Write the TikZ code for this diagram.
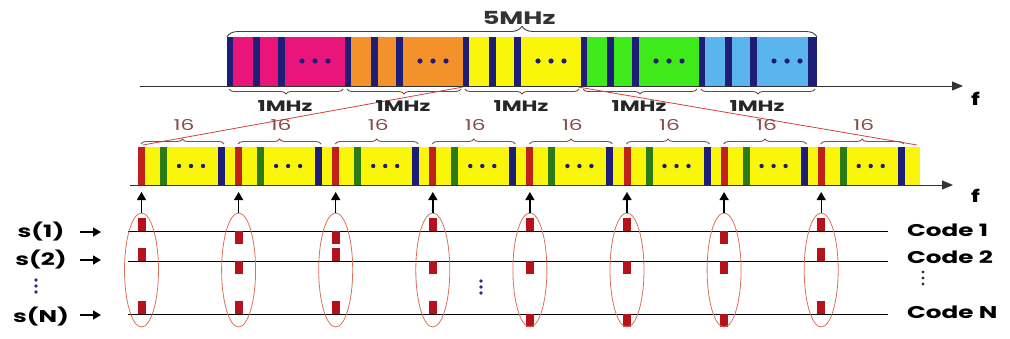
\documentclass[tikz,border=0pt]{standalone}
\usepackage{fontspec}
\setmainfont{Poppins}
\usetikzlibrary{shapes.geometric,decorations.pathreplacing,arrows.meta}
\definecolor{cpink}{HTML}{EA157A}
\definecolor{corange}{HTML}{F3922B}
\definecolor{cyellow}{HTML}{FAF60A}
\definecolor{cgreen}{HTML}{3EEA1A}
\definecolor{cblue}{HTML}{5AB4EE}
\definecolor{navy}{HTML}{1E1E78}
\definecolor{cred}{HTML}{C0221A}
\definecolor{dgreen}{HTML}{2C7A18}
\definecolor{codered}{HTML}{B5121B}
\definecolor{ellc}{HTML}{D9705A}
\definecolor{zoomc}{HTML}{D44040}
\definecolor{bracec}{HTML}{6A4A40}
\definecolor{sixc}{HTML}{8A4A4A}
\definecolor{dotblue}{HTML}{2A2A8A}
\newcommand\wx[1]{\scalebox{1.45}[1]{#1}}
\tikzset{
  lab/.style={inner sep=0pt, font=\fontsize{17}{19}\selectfont\bfseries},
  axisline/.style={line width=1pt, draw=black!80, -{Triangle[length=11pt,width=9pt]}},
  bracetop/.style={decorate, decoration={brace, amplitude=11pt}, line width=0.9pt, draw=black!75},
  bracemhz/.style={decorate, decoration={brace, mirror, amplitude=5pt}, line width=0.9pt, draw=bracec},
  bracesix/.style={decorate, decoration={brace, amplitude=5pt}, line width=0.9pt, draw=sixc},
  zoomline/.style={line width=0.8pt, draw=zoomc},
  ell/.style={ellipse, draw=ellc, line width=0.8pt, minimum width=34pt, minimum height=114pt, inner sep=0pt},
  uparr/.style={line width=1.4pt, -{Triangle[length=8pt,width=9pt]}},
  codeline/.style={line width=1pt, draw=black},
  inarr/.style={line width=1.4pt, -{Triangle[length=8pt,width=9pt]}},
}
\begin{document}
\begin{tikzpicture}[x=1pt,y=-1pt]
\useasboundingbox (0,0) rectangle (1010,338);
% ---------- top 5 MHz band ----------
\foreach \i/\c in {0/cpink,1/corange,2/cyellow,3/cgreen,4/cblue}{
  \pgfmathsetmacro\xo{227+118*\i}
  \fill[\c] (\xo,37) rectangle ++(118,49);
  \fill[navy] (\xo,37) rectangle ++(6,49);
  \fill[navy] (\xo+26,37) rectangle ++(7,49);
  \fill[navy] (\xo+51,37) rectangle ++(7,49);
  \foreach \d in {-13,0,13}{\fill[navy] (\xo+88+\d,61) circle (2.6pt);}
  \draw[bracemhz] (\xo+2,89) -- (\xo+116,89);
}
\fill[navy] (808,37) rectangle (817,86);
\coordinate (ta0) at (140,86);
\coordinate (ta1) at (963,86);
\draw[axisline] (ta0) -- (ta1);
\node[lab, anchor=west] (f1) at (971,99) {\wx{f}};
% zoom lines
\coordinate (zl0) at (143,145);
\coordinate (zl1) at (463,87);
\coordinate (zr0) at (917,145);
\coordinate (zr1) at (578,87);
\draw[zoomline] (zl0) -- (zl1);
\draw[zoomline] (zr0) -- (zr1);
\foreach \i in {0,...,4}{
  \pgfmathsetmacro\xo{227+118*\i}
  \node[lab, font=\fontsize{15}{17}\selectfont\bfseries, text=black!85] (m\i) at (\xo+58,106) {\wx{1MHz}};
}
\draw[bracetop] (227,37) -- (817,37);
\node[lab, font=\fontsize{18}{20}\selectfont\bfseries, fill=white, inner sep=1pt, text=black!80] (five) at (519,18) {\wx{5MHz}};
% ---------- bottom zoomed band ----------
\fill[cyellow] (138,147) rectangle (920,185);
\foreach \k in {0,...,7}{
  \pgfmathsetmacro\s{138+97.1*\k}
  \fill[cred] (\s,147) rectangle ++(7,38);
  \fill[dgreen] (\s+22,147) rectangle ++(7,38);
  \fill[navy] (\s+80,147) rectangle ++(7,38);
  \foreach \d in {-12,0,12}{\fill[navy] (\s+53+\d,166) circle (2.2pt);}
  \draw[bracesix] (\s+3,144) -- (\s+86,144);
  \node[lab, font=\fontsize{15}{17}\selectfont, text=sixc] (n\k) at (\s+46,125) {\wx{16}};
}
\coordinate (ba0) at (130,185);
\coordinate (ba1) at (953,185);
\draw[axisline] (ba0) -- (ba1);
\node[lab, anchor=west] (f2) at (971,196) {\wx{f}};
% ---------- code lines ----------
\coordinate (c1a) at (128,231); \coordinate (c1b) at (888,231);
\coordinate (c2a) at (128,261); \coordinate (c2b) at (888,261);
\coordinate (cNa) at (128,314); \coordinate (cNb) at (888,314);
\draw[codeline] (c1a) -- (c1b);
\draw[codeline] (c2a) -- (c2b);
\draw[codeline] (cNa) -- (cNb);
\foreach \k/\a/\b/\c in {0/1/1/1,1/0/0/1,2/0/1/1,3/1/0/1,4/1/0/0,5/1/0/0,6/0/0/0,7/1/1/1}{
  \pgfmathsetmacro\x{138+97.1*\k+3.5}
  \fill[codered] (\x-4,231-13*\a) rectangle ++(8,13);
  \fill[codered] (\x-4,261-13*\b) rectangle ++(8,13);
  \fill[codered] (\x-4,314-13*\c) rectangle ++(8,13);
  \node[ell] (e\k) at (\x,270) {};
  \coordinate (t\k) at (\x,192);
  \draw[uparr] (e\k.north) -- (t\k);
}
% ---------- labels ----------
\node[lab] (s1) at (41,232) {\wx{s(1)}};
\node[lab] (s2) at (41,260) {\wx{s(2)}};
\node[lab] (sN) at (41,317) {\wx{s(N)}};
\foreach \n/\y in {s1/232,s2/260,sN/315}{
  \coordinate (\n a) at (80,\y);
  \coordinate (\n b) at (101,\y);
  \draw[inarr] (\n a) -- (\n b);
}
\foreach \y in {280,286,292}{\fill[dotblue] (36,\y) circle (1.8pt);}
\foreach \y in {281,287,293}{\fill[dotblue] (481,\y) circle (1.8pt);}
\node[lab, anchor=west] (k1) at (907,230) {\wx{Code 1}};
\node[lab, anchor=west] (k2) at (907,257) {\wx{Code 2}};
\node[lab, anchor=west] (kN) at (907,312) {\wx{Code N}};
\foreach \y in {272,278,284}{\fill[black!80] (923,\y) circle (1.6pt);}
\end{tikzpicture}
\end{document}
